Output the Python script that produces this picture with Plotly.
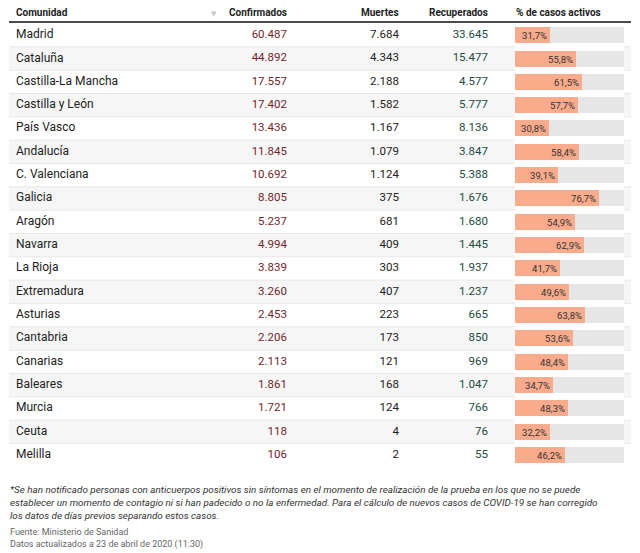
import plotly.graph_objects as go

comunidades = ["Madrid", "Cataluña", "Castilla-La Mancha", "Castilla y León", "País Vasco",
               "Andalucía", "C. Valenciana", "Galicia", "Aragón", "Navarra", "La Rioja",
               "Extremadura", "Asturias", "Cantabria", "Canarias", "Baleares", "Murcia",
               "Ceuta", "Melilla"]
confirmados = [60487, 44892, 17557, 17402, 13436, 11845, 10692, 8805, 5237, 4994, 3839,
               3260, 2453, 2206, 2113, 1861, 1721, 118, 106]
muertes = [7684, 4343, 2188, 1582, 1167, 1079, 1124, 375, 681, 409, 303, 407, 223, 173,
           121, 168, 124, 4, 2]
recuperados = [33645, 15477, 4577, 5777, 8136, 3847, 5388, 1676, 1680, 1445, 1937, 1237,
               665, 850, 969, 1047, 766, 76, 55]
activos = [31.7, 55.8, 61.5, 57.7, 30.8, 58.4, 39.1, 76.7, 54.9, 62.9, 41.7, 49.6, 63.8,
           53.6, 48.4, 34.7, 48.3, 32.2, 46.2]
headers = ["Comunidad", "Confirmados", "Muertes", "Recuperados", "% de casos activos"]
nota = ("*Se han notificado personas con anticuerpos positivos sin síntomas en el momento de realización de la prueba en los que no se puede<br>"
        "establecer un momento de contagio ni si han padecido o no la enfermedad. Para el cálculo de nuevos casos de COVID-19 se han corregido<br>"
        "los datos de días previos separando estos casos.")
fuente = "Fuente: Ministerio de Sanidad"
fecha = "Datos actualizados a 23 de abril de 2020 (11:30)"

# page body has an 8px margin: the figure starts at page pixel 8
OFF = 8
W, H = 640, 553
ROW0, PITCH = 23.5, 23.33
FONT = "Roboto"

def fmt(v):
    return f"{v:,}".replace(",", ".")

def pct(v):
    return f"{v:.1f}".replace(".", ",") + "%"

n = len(comunidades)
yc = [ROW0 + PITCH * (i + 0.5) for i in range(n)]

fig = go.Figure()

fig.add_trace(go.Scatter(x=[16] * n, y=yc, mode="text", text=comunidades,
                         textposition="middle right", textfont=dict(family=FONT, size=12, color="#222"),
                         hoverinfo="skip", showlegend=False))
fig.add_trace(go.Scatter(x=[287] * n, y=yc, mode="text", text=[fmt(v) for v in confirmados],
                         textposition="middle left", textfont=dict(family=FONT, size=11.5, color="#72262c"),
                         hoverinfo="skip", showlegend=False))
fig.add_trace(go.Scatter(x=[399] * n, y=yc, mode="text", text=[fmt(v) for v in muertes],
                         textposition="middle left", textfont=dict(family=FONT, size=11.5, color="#222"),
                         hoverinfo="skip", showlegend=False))
fig.add_trace(go.Scatter(x=[488] * n, y=yc, mode="text", text=[fmt(v) for v in recuperados],
                         textposition="middle left", textfont=dict(family=FONT, size=11.5, color="#1d4a42"),
                         hoverinfo="skip", showlegend=False))

fig.add_trace(go.Bar(x=[100] * n, y=yc, orientation="h", width=16, xaxis="x2", yaxis="y",
                     marker=dict(color="#e6e6e6", line=dict(width=0)), hoverinfo="skip", showlegend=False))
fig.add_trace(go.Bar(x=activos, y=yc, orientation="h", width=16, xaxis="x2", yaxis="y",
                     marker=dict(color="#f9ab8c", line=dict(width=0)),
                     text=[pct(v) for v in activos], textposition="inside", insidetextanchor="end",
                     textangle=0, constraintext="none",
                     textfont=dict(family=FONT, size=9.5, color="#333"),
                     hoverinfo="skip", showlegend=False))

shapes = []
for i in range(n):
    top = ROW0 + PITCH * i
    if i % 2 == 1:
        shapes.append(dict(type="rect", xref="x", yref="y", x0=9, x1=631, y0=top, y1=top + PITCH,
                           fillcolor="#f6f6f6", line=dict(width=0), layer="below"))
    if i > 0:
        shapes.append(dict(type="line", xref="x", yref="y", x0=9, x1=631, y0=top, y1=top,
                           line=dict(color="#e8e8e8", width=1), layer="below"))
shapes.append(dict(type="line", xref="x", yref="y", x0=9, x1=631, y0=22, y1=22,
                   line=dict(color="#111", width=1.5)))

annotations = []
hx = [16, 287, 399, 488, 516]
anchors = ["left", "right", "right", "right", "left"]
for h, x, a in zip(headers, hx, anchors):
    annotations.append(dict(x=x, y=12.5, xref="x", yref="y", text=f"<b>{h}</b>", showarrow=False,
                            xanchor=a, yanchor="middle", xshift=-2 if a == "left" else 2,
                            font=dict(family=FONT, size=10, color="#222")))
annotations.append(dict(x=214, y=OFF, xref="x", yref="y", text="▼", showarrow=False, xanchor="center",
                        yanchor="top", font=dict(family="DejaVu Sans", size=7, color="#c8c8c8")))
annotations.append(dict(x=10, y=482, xref="x", yref="y", text=f"<i>{nota}</i>", showarrow=False,
                        xanchor="left", yanchor="top", align="left", xshift=-2,
                        font=dict(family=FONT, size=9.85, color="#333")))
annotations.append(dict(x=10, y=525, xref="x", yref="y", text=f"{fuente}<br>{fecha}", showarrow=False,
                        xanchor="left", yanchor="top", align="left", xshift=-2,
                        font=dict(family=FONT, size=9, color="#666")))

fig.update_layout(
    width=W - OFF, height=H - OFF, margin=dict(l=0, r=0, t=0, b=0),
    paper_bgcolor="white", plot_bgcolor="white",
    barmode="overlay", bargap=0,
    xaxis=dict(range=[OFF, W], visible=False, fixedrange=True, domain=[0, 1]),
    xaxis2=dict(range=[0, 100], visible=False, fixedrange=True,
                domain=[(515 - OFF) / (W - OFF), (624 - OFF) / (W - OFF)], anchor="y"),
    yaxis=dict(range=[H, OFF], visible=False, fixedrange=True),
    shapes=shapes, annotations=annotations,
)

fig.write_html("out.html")
